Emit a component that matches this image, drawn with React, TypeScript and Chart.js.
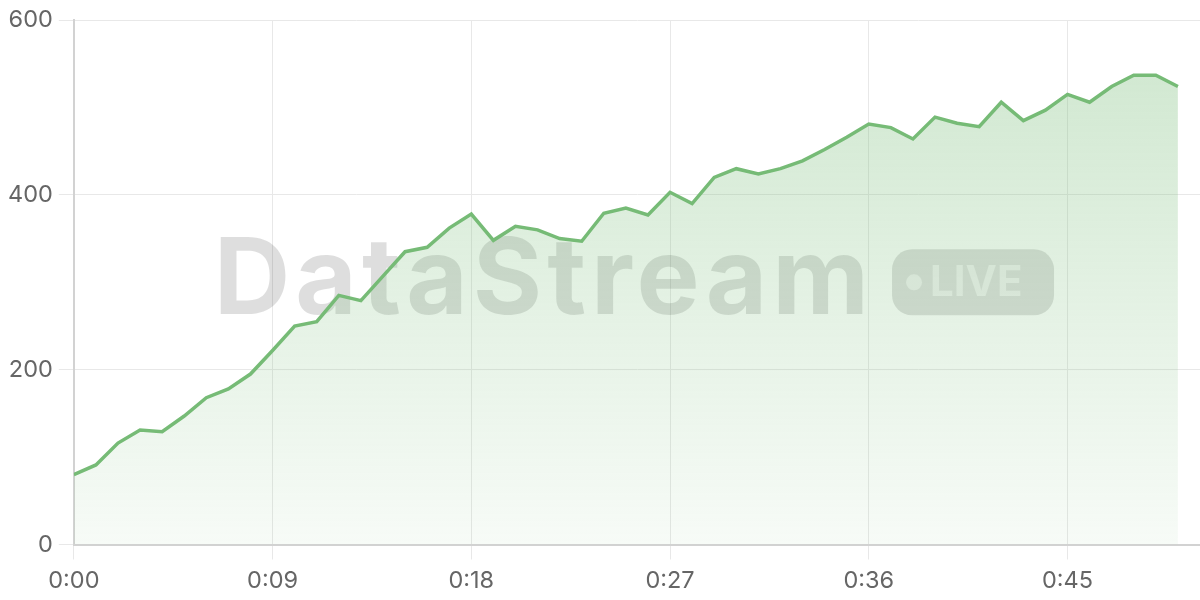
import { useEffect, useRef } from "react";
import { Chart, registerables } from "chart.js";

Chart.register(...registerables);

// one reading per second, 0:00 .. 0:50
const values = [
  80, 91, 116, 131, 129, 147, 168, 178, 195, 222, 250, 255, 285, 279, 307, 335,
  340, 362, 378, 348, 364, 360, 350, 347, 379, 385, 377, 403, 390, 420, 430,
  424, 430, 439, 452, 466, 481, 477, 464, 489, 482, 478, 506, 485, 497, 515,
  506, 524, 537, 537, 524,
];
const seconds = values.map((_, i) => i);
const yTicks = [0, 200, 400, 600];

const LINE = "rgb(118, 187, 118)";
const FONT = "Inter, 'Noto Sans', sans-serif";

const fmtTime = (s: number) => {
  const m = Math.floor(s / 60);
  const r = Math.round(s % 60);
  return `${m}:${r < 10 ? "0" : ""}${r}`;
};

const watermark = {
  id: "watermark",
  beforeDatasetsDraw(chart: Chart) {
    const { ctx, chartArea } = chart;
    const cx = (chartArea.left + chartArea.right) / 2;
    const cy = (chartArea.top + chartArea.bottom) / 2;
    ctx.save();
    ctx.font = `bold 106px ${FONT}`;
    (ctx as any).letterSpacing = "5px";
    const title = "DataStream";
    const tw = ctx.measureText(title).width;
    const gap = 18;
    const bw = 162;
    const bh = 66;
    const total = tw + gap + bw;
    const x0 = cx - total / 2 - 3;
    ctx.fillStyle = "rgba(0, 0, 0, 0.13)";
    ctx.textBaseline = "alphabetic";
    ctx.fillText(title, x0, cy + 32);
    (ctx as any).letterSpacing = "0px";

    const bx = x0 + tw + gap;
    const by = cy - bh / 2;
    ctx.beginPath();
    ctx.roundRect(bx, by, bw, bh, 20);
    ctx.fill();

    ctx.fillStyle = "rgba(255, 255, 255, 0.55)";
    ctx.beginPath();
    ctx.arc(bx + 22, cy, 8, 0, Math.PI * 2);
    ctx.fill();
    ctx.font = `bold 42px ${FONT}`;
    ctx.textBaseline = "middle";
    ctx.fillText("LIVE", bx + 38, cy + 1);
    ctx.restore();
  },
};

export default function App() {
  const canvasRef = useRef<HTMLCanvasElement | null>(null);

  useEffect(() => {
    document.body.style.margin = "0";
    if (!canvasRef.current) return;

    const chart = new Chart(canvasRef.current, {
      type: "line",
      data: {
        datasets: [
          {
            data: seconds.map((s, i) => ({ x: s, y: values[i] })),
            borderColor: LINE,
            borderWidth: 3.5,
            pointRadius: 0,
            tension: 0,
            fill: "origin",
            backgroundColor: (ctx: any) => {
              const area = ctx.chart.chartArea;
              if (!area) return "rgba(118, 187, 118, 0.2)";
              const g = ctx.chart.ctx.createLinearGradient(0, area.top, 0, area.bottom);
              g.addColorStop(0, "rgba(118, 187, 118, 0.36)");
              g.addColorStop(1, "rgba(118, 187, 118, 0.06)");
              return g;
            },
          },
        ],
      },
      options: {
        animation: false,
        responsive: true,
        maintainAspectRatio: false,
        layout: { padding: { left: 2, top: 19, right: 0, bottom: -3 } },
        plugins: {
          legend: { display: false },
          tooltip: { enabled: false },
        },
        scales: {
          x: {
            type: "linear",
            min: 0,
            max: 51,
            grid: { color: "#e8e8e8", tickLength: 15, tickColor: "#e8e8e8" },
            border: { color: "#d2d2d2", width: 2 },
            ticks: {
              stepSize: 9,
              includeBounds: false,
              color: "#666",
              padding: 10,
              maxRotation: 0,
              font: { family: FONT, size: 23.5, lineHeight: 1 },
              callback: (v: any) => fmtTime(Number(v)),
            },
          },
          y: {
            min: 0,
            max: 600,
            afterBuildTicks: (axis: any) => {
              axis.ticks = yTicks.map((v) => ({ value: v }));
            },
            grid: { color: "#e8e8e8", tickLength: 15, tickColor: "#e8e8e8" },
            border: { color: "#d2d2d2", width: 2 },
            ticks: {
              color: "#666",
              padding: 6,
              font: { family: FONT, size: 23.5 },
            },
          },
        },
      },
      plugins: [watermark],
    });

    return () => {
      chart.destroy();
    };
  }, []);

  return (
    <div style={{ width: 1200, height: 600, position: "relative" }}>
      <canvas ref={canvasRef} />
    </div>
  );
}
